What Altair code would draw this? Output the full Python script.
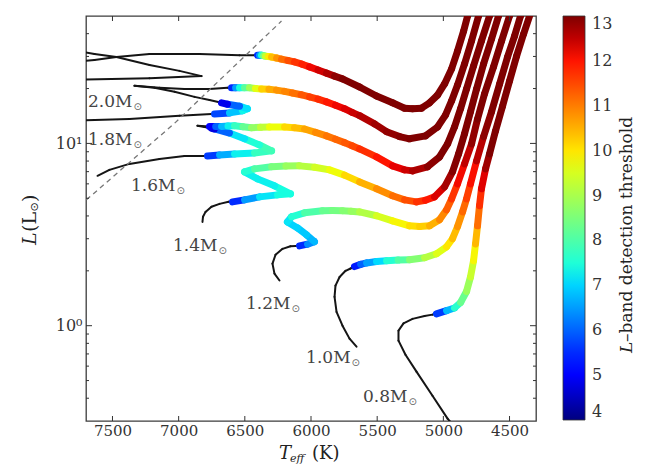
import altair as alt
import pandas as pd

N = None
FONT = "DejaVu Serif"

# ---------------- axis / colorbar ticks ----------------
x_ticks = [7500, 7000, 6500, 6000, 5500, 5000, 4500]
y_ticks = [1, 10]
y_minor = [0.4, 0.5, 0.6, 0.7, 0.8, 0.9, 2, 3, 4, 5, 6, 7, 8, 9, 20, 30, 40]
cbar_ticks = [4, 5, 6, 7, 8, 9, 10, 11, 12, 13]

# ---------------- evolutionary tracks (Teff [K], L [Lsun], L-band threshold; None = black) ----
teff_20 = [7787, 7712, 7220, 6827, 6994, 7220, 7470, 7636, 7787, 7787, 7636, 7470, 7220, 6843, 6540, 6427,
           6404, 6389, 6374, 6359, 6344, 6321, 6298, 6260, 6223, 6175, 6125, 6068, 6011, 5947, 5883, 5822,
           5762, 5633, 5505, 5384, 5293, 5233, 5165, 5104, 5044, 4991, 4938, 4893, 4847, 4817, 4795]
lum_20 = [22.3, 22.4, 22.8, 23.4, 25.0, 26.9, 29.8, 30.9, 32.5, 28.0, 28.7, 29.8, 30.9, 30.9, 30.5, 30.5,
          30.5, 30.5, 30.5, 30.3, 30.1, 30.0, 29.8, 29.4, 29.0, 28.5, 28.0, 27.2, 26.3, 25.3, 24.3, 23.4,
          22.6, 20.4, 18.2, 16.7, 15.6, 15.5, 15.6, 16.7, 18.4, 21.2, 25.6, 32.1, 41.3, 50.0, 58.1]
thr_20 = [N, N, N, N, N, N, N, N, N, N, N, N, N, N, N, N,
          5.0, 6.0, 7.0, 8.0, 9.0, 9.7, 10.2, 10.6, 11.0, 11.3, 11.6, 11.8, 12.0, 12.25, 12.5, 12.75,
          13, 13, 13, 13, 13, 13, 13, 13, 13, 13, 13, 13, 13, 13, 13]

teff_18 = [7787, 7712, 7372, 6994, 6752,
           6729, 6616, 6518, 6480, 6540, 6631, 6676,
           6767, 6880, 7031, 7183, 7334, 7145, 6956, 6767, 6631,
           6601, 6570, 6540, 6503, 6465, 6420, 6374, 6318, 6261, 6200, 6140, 6075, 6011, 5947, 5883,
           5815, 5747, 5690, 5633, 5520, 5429, 5331, 5256, 5135,
           5044, 4984, 4938, 4893, 4840, 4787, 4734, 4712]
lum_18 = [13.3, 13.4, 13.6, 14.2, 14.5,
          14.5, 14.7, 15.1, 15.5, 16.0, 16.4, 16.7,
          17.3, 18.0, 19.2, 20.2, 20.7, 20.2, 19.9, 19.9, 20.2,
          20.2, 20.2, 20.2, 20.2, 20.2, 20.0, 19.9, 19.8, 19.6, 19.3, 18.9, 18.5, 18.0, 17.5, 16.9,
          16.2, 15.5, 14.8, 14.2, 12.8, 11.6, 10.9, 10.6, 11.0,
          12.3, 14.3, 17.1, 20.9, 27.3, 36.5, 50.0, 58.1]
thr_18 = [N, N, N, N, N,
          5.0, 6.5, 7.2, 7.4, 6.8, 5.2, 4.5,
          N, N, N, N, N, N, N, N, N,
          5.0, 6.0, 7.0, 7.8, 8.5, 9.3, 10.0, 10.4, 10.7, 10.85, 11.0, 11.25, 11.5, 11.7, 11.9,
          12.05, 12.2, 12.35, 12.5, 12.7, 12.8, 12.9, 13, 13,
          13, 13, 13, 13, 13, 13, 13, 13]

teff_16 = [7613, 7523, 7372, 7145, 6956, 6805,
           6782, 6691, 6578, 6427, 6298, 6389, 6502, 6616, 6729, 6752,
           6805, 6858,
           6767, 6720, 6676, 6627, 6578, 6514, 6450, 6382, 6314, 6200, 6125, 6049, 5966, 5883, 5815,
           5747, 5690, 5633, 5505, 5384, 5293, 5233, 5120,
           5029, 4968, 4916, 4870, 4825, 4772, 4712, 4651, 4628]
lum_16 = [6.64, 7.16, 7.72, 8.22, 8.54, 8.54,
          8.54, 8.65, 8.76, 8.87, 9.10, 9.81, 10.6, 11.4, 12.0, 12.1,
          12.3, 12.5,
          12.4, 12.4, 12.4, 12.45, 12.5, 12.35, 12.2, 12.25, 12.3, 12.3, 12.2, 12.0, 11.5, 11.0, 10.55,
          10.1, 9.7, 9.33, 8.43, 7.53, 7.16, 7.07, 7.44,
          8.43, 9.94, 12.3, 15.5, 19.9, 26.6, 36.5, 50.0, 58.1]
thr_16 = [N, N, N, N, N, N,
          5.0, 6.3, 7.0, 7.5, 8.0, 7.7, 7.3, 7.0, 5.0, 4.5,
          N, N,
          4.5, 5.5, 6.5, 7.0, 7.5, 8.0, 8.5, 9.0, 9.5, 10.0, 10.25, 10.5, 10.75, 11.0, 11.15,
          11.3, 11.45, 11.6, 11.9, 12.1, 12.3, 12.5, 12.8,
          13, 13, 13, 13, 13, 13, 13, 13, 13]

teff_14 = [6820, 6816, 6797, 6752, 6691, 6623,
           6593, 6502, 6389, 6253, 6155, 6276, 6404, 6502, 6427, 6298,
           6190, 6087, 5973, 5860, 5747, 5633, 5505, 5384, 5293, 5203, 5135, 5067, 4991, 4931,
           4885, 4840, 4795, 4749, 4696, 4636, 4583, 4560]
lum_14 = [3.71, 3.96, 4.21, 4.49, 4.66, 4.78,
          4.78, 4.90, 5.09, 5.22, 5.29, 5.85, 6.39, 6.98, 7.25, 7.44,
          7.52, 7.53, 7.40, 7.16, 6.70, 6.15, 5.64, 5.16, 4.90, 4.78, 4.88, 5.09, 5.78, 6.98,
          8.76, 11.3, 14.9, 19.9, 27.3, 37.4, 50.0, 58.1]
thr_14 = [N, N, N, N, N, N,
          5.0, 6.0, 7.0, 7.3, 7.5, 7.3, 7.2, 7.3, 7.8, 8.3,
          8.65, 9.0, 9.3, 9.6, 9.95, 10.3, 10.7, 11.0, 11.3, 11.6, 11.85, 12.1, 12.5, 12.9,
          13, 13, 13, 13, 13, 13, 13, 13]

teff_12 = [6238, 6276, 6291, 6268, 6215, 6155, 6117,
           6087, 6026, 5974, 6034, 6102, 6178, 6147, 6049, 5913, 5838, 5762,
           5698, 5633, 5505, 5384, 5256, 5180, 5104, 5029, 4976, 4938, 4893, 4840,
           4787, 4742, 4689, 4621, 4560, 4500, 4477]
lum_12 = [1.77, 1.93, 2.19, 2.45, 2.64, 2.73, 2.74,
          2.74, 2.80, 2.89, 3.15, 3.44, 3.71, 3.96, 4.16, 4.27, 4.28, 4.27,
          4.25, 4.21, 4.01, 3.76, 3.53, 3.50, 3.53, 3.81, 4.32, 4.96, 6.00, 7.72,
          9.94, 13.6, 18.7, 26.3, 36.5, 50.0, 58.1]
thr_12 = [N, N, N, N, N, N, N,
          5.0, 6.0, 6.7, 6.8, 7.0, 7.0, 7.3, 7.8, 8.2, 8.35, 8.5,
          8.7, 8.9, 9.3, 9.7, 10.0, 10.15, 10.3, 10.7, 11.1, 11.5, 11.9, 12.3,
          12.7, 13, 13, 13, 13, 13, 13]

teff_10 = [5656, 5709, 5762, 5807, 5822, 5815, 5784, 5739, 5701,
           5671, 5625, 5580, 5505, 5429, 5342, 5256, 5142, 5052, 4976, 4931, 4893, 4855,
           4825, 4795, 4749, 4696, 4636, 4575, 4515, 4462, 4417, 4394]
lum_10 = [0.767, 0.849, 1.00, 1.19, 1.44, 1.66, 1.85, 2.00, 2.06,
          2.11, 2.17, 2.21, 2.25, 2.27, 2.29, 2.30, 2.36, 2.48, 2.71, 3.00, 3.49, 4.21,
          4.96, 6.00, 8.02, 10.9, 14.9, 21.2, 29.8, 38.8, 50.0, 58.1]
thr_10 = [N, N, N, N, N, N, N, N, N,
          5.0, 5.7, 6.3, 6.8, 7.3, 7.8, 8.3, 8.9, 9.4, 9.8, 10.2, 10.6, 11.0,
          11.4, 11.8, 12.3, 12.8, 13, 13, 13, 13, 13, 13]

teff_08 = [4916, 4968, 5082, 5203, 5286, 5339, 5339, 5301, 5233, 5142, 5082,
           5052, 4976, 4916, 4870, 4825, 4795, 4772, 4757, 4742, 4727,
           4712, 4681, 4651, 4606, 4553, 4500, 4447, 4394, 4341, 4318]
lum_08 = [0.280, 0.309, 0.413, 0.560, 0.693, 0.828, 0.939, 1.03, 1.09, 1.13, 1.15,
          1.16, 1.21, 1.25, 1.34, 1.54, 1.85, 2.27, 2.81, 3.53, 4.55,
          5.64, 7.25, 8.76, 11.7, 16.0, 22.0, 30.1, 39.8, 51.9, 58.9]
thr_08 = [N, N, N, N, N, N, N, N, N, N, N,
          5.0, 6.3, 7.2, 8.0, 8.6, 9.1, 9.6, 10.1, 10.8, 11.5,
          12.0, 12.5, 13, 13, 13, 13, 13, 13, 13, 13]

# dashed boundary line
dash_teff = [7697, 7031, 6223]
dash_lum = [4.90, 12.9, 46.9]

# mass labels
mass_names = ["0.8M", "1.0M", "1.2M", "1.4M", "1.6M", "1.8M", "2.0M"]
mass_teff = [5271, 5701, 6155, 6707, 7024, 7349, 7349]
mass_lum = [0.405, 0.668, 1.32, 2.73, 5.81, 10.45, 16.9]
sun = "\u2299"

# jet colormap stops over 4..13
jet_domain = [4.0, 4.99, 5.125, 7.06, 7.375, 9.76, 9.94, 12.01, 12.19, 13.0]
jet_colors = ["#00007f", "#0000ff", "#0000ff", "#00dbff", "#14ffe2",
              "#eeff08", "#ffec00", "#ff1300", "#e80000", "#7f0000"]

# ---------------- build segment table ----------------
tracks = [("0.8", teff_08, lum_08, thr_08), ("1.0", teff_10, lum_10, thr_10),
          ("1.2", teff_12, lum_12, thr_12), ("1.4", teff_14, lum_14, thr_14),
          ("1.6", teff_16, lum_16, thr_16), ("1.8", teff_18, lum_18, thr_18),
          ("2.0", teff_20, lum_20, thr_20)]
rows = []
for name, T, L, V in tracks:
    for i in range(len(T) - 1):
        both = V[i] is not None and V[i + 1] is not None
        rows.append({"track": name, "teff": T[i], "lum": L[i],
                     "teff2": T[i + 1], "lum2": L[i + 1],
                     "thr": (V[i] + V[i + 1]) / 2 if both else None,
                     "kind": "color" if both else "black"})
seg = pd.DataFrame(rows)
black_df = seg[seg.kind == "black"].drop(columns=["thr"])
color_df = seg[seg.kind == "color"]
dash_df = pd.DataFrame({"teff": dash_teff, "lum": dash_lum})
lab_df = pd.DataFrame({"teff": mass_teff, "lum": mass_lum, "name": mass_names,
                       "sun": [sun] * len(mass_names)})
xt_df = pd.DataFrame({"v": x_ticks})
yt_df = pd.DataFrame({"v": y_ticks})
ym_df = pd.DataFrame({"v": y_minor})

W, H = 450, 405
xs = alt.Scale(domain=[4300, 7700], reverse=True, nice=False, zero=False)
ys = alt.Scale(type="log", domain=[0.3, 50], nice=False)
TICK = "#333"

ax_x_lab = alt.Axis(orient="bottom", values=x_ticks, format="d", ticks=False, domain=False,
                    grid=False, labelFont=FONT, labelFontSize=15, labelColor="#333",
                    labelPadding=2, title=None)
ax_y_lab = alt.Axis(orient="left", values=y_ticks, ticks=False, domain=False, grid=False,
                    labelExpr="datum.value == 1 ? '10\u2070' : '10\u00b9'",
                    labelFont=FONT, labelFontSize=16, labelColor="#333", labelPadding=4, title=None)

black_layer = alt.Chart(black_df).mark_rule(color="#151515", strokeWidth=2, strokeCap="round",
                                            clip=True).encode(
    x=alt.X("teff:Q", scale=xs, axis=ax_x_lab),
    y=alt.Y("lum:Q", scale=ys, axis=ax_y_lab),
    x2="teff2:Q", y2="lum2:Q")

color_layer = alt.Chart(color_df).mark_rule(strokeWidth=7, strokeCap="round", clip=True).encode(
    x=alt.X("teff:Q", scale=xs, axis=None),
    y=alt.Y("lum:Q", scale=ys, axis=None),
    x2="teff2:Q", y2="lum2:Q",
    color=alt.Color("thr:Q",
                    scale=alt.Scale(domain=jet_domain, range=jet_colors, interpolate="rgb",
                                    clamp=True, zero=False, nice=False),
                    legend=alt.Legend(orient="none", legendX=477, legendY=0, direction="vertical",
                                      gradientLength=404, gradientThickness=22, title=None,
                                      values=cbar_ticks, labelFont=FONT, labelFontSize=16,
                                      labelColor="#333", labelOffset=7, labelBaseline="middle",
                                      gradientStrokeColor="#333", gradientStrokeWidth=0.8,
                                      padding=0)))

dash_layer = alt.Chart(dash_df).mark_line(color="#777777", strokeWidth=1.3, strokeDash=[5, 4],
                                          clip=True).encode(
    x=alt.X("teff:Q", scale=xs, axis=None),
    y=alt.Y("lum:Q", scale=ys, axis=None))

label_layer = alt.Chart(lab_df).mark_text(align="right", baseline="middle", font=FONT,
                                          fontSize=17, color="#444").encode(
    x=alt.X("teff:Q", scale=xs, axis=None),
    y=alt.Y("lum:Q", scale=ys, axis=None),
    text="name:N")

sun_layer = alt.Chart(lab_df).mark_text(align="left", baseline="middle", dx=1, dy=5,
                                        font="DejaVu Sans", fontSize=10, color="#666").encode(
    x=alt.X("teff:Q", scale=xs, axis=None),
    y=alt.Y("lum:Q", scale=ys, axis=None),
    text="sun:N")

# ---------------- inward frame ticks ----------------
def xtick_layer(y0, y1):
    return alt.Chart(xt_df).mark_rule(color=TICK, strokeWidth=1).encode(
        x=alt.X("v:Q", scale=xs, axis=None), y=alt.value(y0), y2=alt.value(y1))

def ytick_layer(df, x0, x1):
    return alt.Chart(df).mark_rule(color=TICK, strokeWidth=1).encode(
        y=alt.Y("v:Q", scale=ys, axis=None), x=alt.value(x0), x2=alt.value(x1))

tick_layers = [xtick_layer(H, H - 5), xtick_layer(0, 5),
               ytick_layer(yt_df, 0, 6), ytick_layer(yt_df, W, W - 6),
               ytick_layer(ym_df, 0, 3), ytick_layer(ym_df, W, W - 3)]

# ---------------- titles as text pieces ----------------
def piece(txt, x, y, size, italic=False, angle=0, dy=0, font=FONT):
    return alt.Chart(pd.DataFrame({"t": [txt]})).mark_text(
        align="left", baseline="alphabetic" if angle == 0 else "middle",
        font=font, fontSize=size, fontStyle="italic" if italic else "normal",
        angle=angle, dy=dy, color="#222").encode(
        text="t:N", x=alt.value(x), y=alt.value(y))

xtitle = [piece("T", 193, 443, 18, italic=True),
          piece("eff", 204, 446, 11, italic=True),
          piece("(K)", 226, 443, 18)]
ytitle = [piece("L", -56, 229, 19, italic=True, angle=270),
          piece("(L", -56, 216, 19, angle=270),
          piece(sun, -56, 195.5, 11, angle=270, dy=5, font="DejaVu Sans"),
          piece(")", -56, 186, 19, angle=270)]
ctitle = [piece("L", 541, 337, 17, italic=True, angle=270),
          piece("\u2013band detection threshold", 541, 326, 17, angle=270)]

chart = alt.layer(black_layer, color_layer, dash_layer, label_layer, sun_layer,
                  *tick_layers, *xtitle, *ytitle, *ctitle).resolve_axis(
    x="independent", y="independent").properties(
    width=W, height=H,
    padding={"left": 78, "top": 8, "right": 101, "bottom": 46},
    autosize=alt.AutoSizeParams(type="none")).configure_view(
    stroke="#3c3c3c", strokeWidth=1.3).configure_axis(grid=False)

chart.save("out.html", embed_options={"renderer": "svg", "actions": False})
